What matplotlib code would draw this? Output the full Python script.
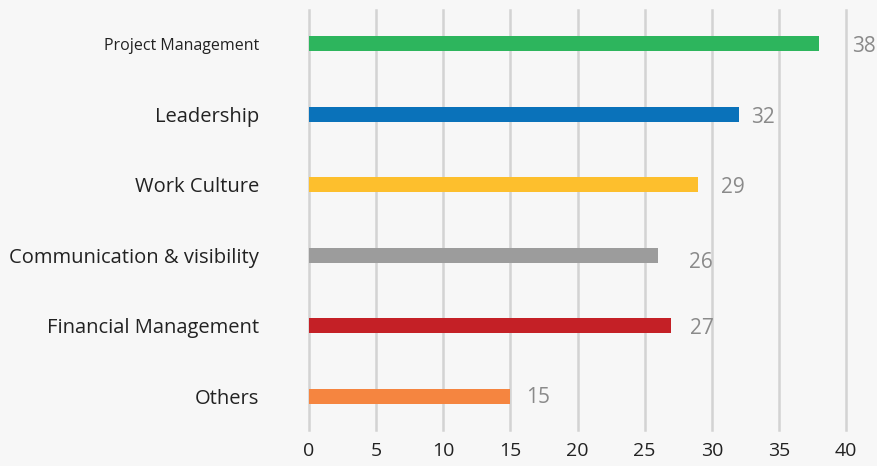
import matplotlib
matplotlib.use("Agg")
import matplotlib.pyplot as plt

categories = ["Others", "Financial Management", "Communication & visibility",
              "Work Culture", "Leadership", "Project Management"]
values = [15, 27, 26, 29, 32, 38]
colors = ["#f58540", "#c42026", "#9c9c9c", "#fdbf2d", "#0a72ba", "#2db55d"]
x_ticks = [0, 5, 10, 15, 20, 25, 30, 35, 40]

# per-label horizontal gap (points) and vertical nudge (points)
label_gap = [11, 13, 22, 16, 9, 24]
label_dy = [-1, -2, -5, -2, -2, -2]

bg = "#f7f7f7"
fig = plt.figure(figsize=(8.77, 4.66), dpi=100, facecolor=bg)
ax = fig.add_axes([309 / 877, 36 / 466, (846 - 309) / 877, 420 / 466], facecolor=bg)

ypos = list(range(len(categories)))
ax.barh(ypos, values, height=0.21, color=colors, zorder=3)

ax.set_xlim(0, 40)
ax.set_ylim(-0.48, 5.48)
ax.set_xticks(x_ticks)
ax.set_xticklabels([str(t) for t in x_ticks])
ax.set_yticks(ypos)
ax.set_yticklabels(categories)
ax.grid(axis="y", visible=False)
for s in ax.spines.values():
    s.set_visible(False)
for t in x_ticks:
    ax.axvline(t, color="#d3d3d3", linewidth=1.8, zorder=1, clip_on=False)

ax.tick_params(axis="both", length=0, colors="#222222", labelsize=14)
ax.tick_params(axis="x", pad=9)
ax.tick_params(axis="y", pad=36)
for lbl in ax.get_xticklabels() + ax.get_yticklabels():
    lbl.set_fontfamily("Open Sans")
ax.get_yticklabels()[-1].set_fontsize(11.5)
for lbl in ax.get_yticklabels()[:-1]:
    lbl.set_fontsize(14.5)

for y, v, g, dy in zip(ypos, values, label_gap, label_dy):
    ax.annotate(str(v), xy=(v, y), xytext=(g, dy), textcoords="offset points",
                ha="left", va="center", fontsize=15, color="#8a8a8a",
                family="Open Sans")

fig.savefig("out.png", dpi=100, facecolor=bg)
